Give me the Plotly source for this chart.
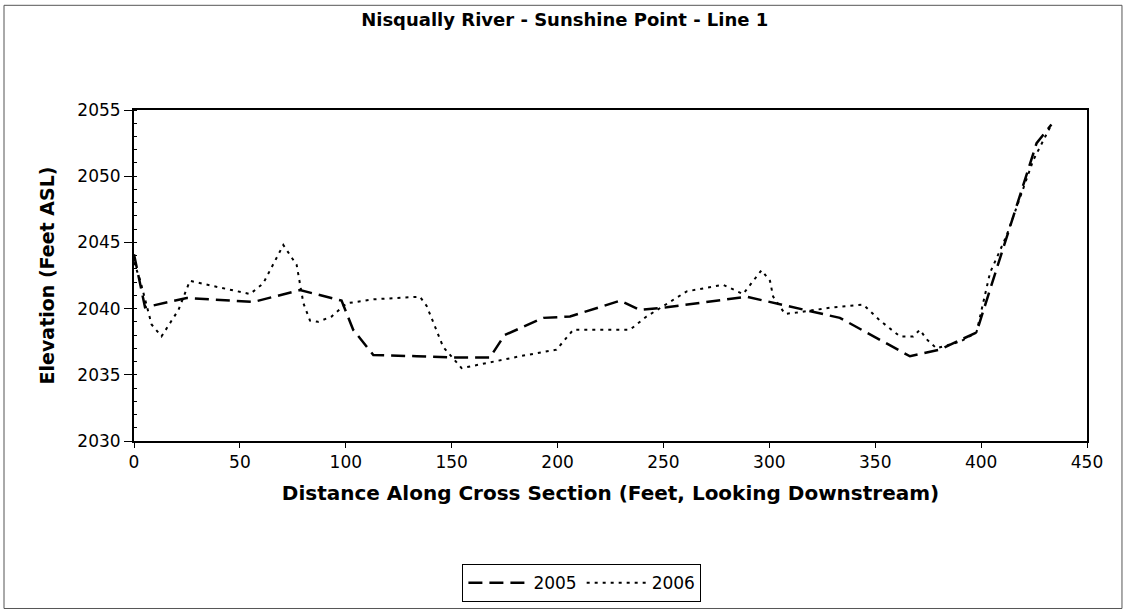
import plotly.graph_objects as go

x2005 = [0, 5.2, 24.9, 56.3, 78.4, 98, 103.5, 113, 133.5, 150.8, 168, 175, 193.3, 205.9,
         229.5, 238.9, 251.5, 289.2, 333.3, 366.4, 380.5, 397.8, 426.2, 433.2]
y2005 = [2044.1, 2040.1, 2040.8, 2040.5, 2041.4, 2040.6, 2038.4, 2036.5, 2036.4, 2036.3, 2036.3,
         2038.0, 2039.3, 2039.4, 2040.6, 2039.9, 2040.1, 2040.9, 2039.3, 2036.4, 2036.9, 2038.2,
         2052.5, 2053.9]

x2006 = [0, 2.8, 8.3, 13, 21, 26.4, 37.5, 49.2, 54.8, 61, 70.5, 76.8, 80, 83.1, 87, 93.3,
         100.4, 113, 135, 138.2, 146, 154.7, 166.5, 182.2, 199.5, 207.4, 234.2, 242, 261,
         278.2, 287.6, 296.3, 300.3, 301.8, 307.4, 312.9, 330.1, 344.4, 352.2, 361.7, 367.9,
         371.1, 374.2, 378.9, 390, 397.8, 404.2, 412, 424.6, 427.7, 433.2]
y2006 = [2043.5, 2042.2, 2038.8, 2037.9, 2039.9, 2042.1, 2041.7, 2041.3, 2041.1, 2041.9, 2044.8,
         2043.3, 2040.4, 2039.1, 2039.0, 2039.4, 2040.4, 2040.7, 2040.9, 2040.2, 2037.1, 2035.5,
         2035.9, 2036.4, 2036.9, 2038.4, 2038.4, 2039.4, 2041.3, 2041.8, 2041.1, 2042.9, 2042.1,
         2040.9, 2039.6, 2039.7, 2040.1, 2040.3, 2039.1, 2037.9, 2037.9, 2038.4, 2037.7, 2037.0,
         2037.5, 2038.2, 2042.7, 2045.5, 2051.2, 2052.2, 2053.9]

xticks = [0, 50, 100, 150, 200, 250, 300, 350, 400, 450]
yticks = [2030, 2035, 2040, 2045, 2050, 2055]

FONT = "DejaVu Sans, Arial, sans-serif"

fig = go.Figure()
fig.add_trace(go.Scatter(x=x2005, y=y2005, mode="lines", name="2005",
                         line=dict(color="black", width=2.5, dash="14px,7px")))
fig.add_trace(go.Scatter(x=x2006, y=y2006, mode="lines", name="2006",
                         line=dict(color="black", width=2, dash="3px,5px")))

fig.update_layout(
    width=1125, height=612,
    margin=dict(l=134, r=38, t=110, b=170),
    plot_bgcolor="white", paper_bgcolor="white",
    font=dict(family=FONT, color="black"),
    title=dict(text="<b>Nisqually River - Sunshine Point - Line 1</b>", x=0.502, xanchor="center",
               y=0.967, yanchor="middle", font=dict(size=18, family=FONT)),
    showlegend=True,
    legend=dict(orientation="h", x=0.47, xanchor="center", y=-0.425, yanchor="middle",
                bordercolor="black", borderwidth=1, font=dict(size=17, family=FONT),
                itemwidth=60, tracegroupgap=0),
    xaxis=dict(range=[0, 450], tickvals=xticks, ticks="outside", ticklen=5, tickcolor="black",
               showline=True, linecolor="black", linewidth=2, mirror=True, showgrid=False,
               zeroline=False, tickfont=dict(size=17, family=FONT), automargin=False,
               title=dict(text="<b>Distance Along Cross Section (Feet, Looking Downstream)</b>",
                          font=dict(size=20, family=FONT), standoff=15)),
    yaxis=dict(range=[2030, 2055], tickvals=yticks, ticks="outside", ticklen=8, tickcolor="black",
               showline=True, linecolor="black", linewidth=2, mirror=True, showgrid=False,
               zeroline=False, tickfont=dict(size=17, family=FONT), automargin=False,
               minor=dict(dtick=1, ticks="inside", ticklen=3, tickcolor="black"),
               title=dict(text="<b>Elevation (Feet ASL)</b>", font=dict(size=19, family=FONT),
                          standoff=18)),
)

fig.add_shape(type="rect", xref="paper", yref="paper",
              x0=-0.1364, x1=1.0367, y0=-0.506, y1=1.3163,
              line=dict(color="#555555", width=1))

fig.write_html("out.html", config={"displayModeBar": False},
               post_script="document.body.style.margin='0';")
